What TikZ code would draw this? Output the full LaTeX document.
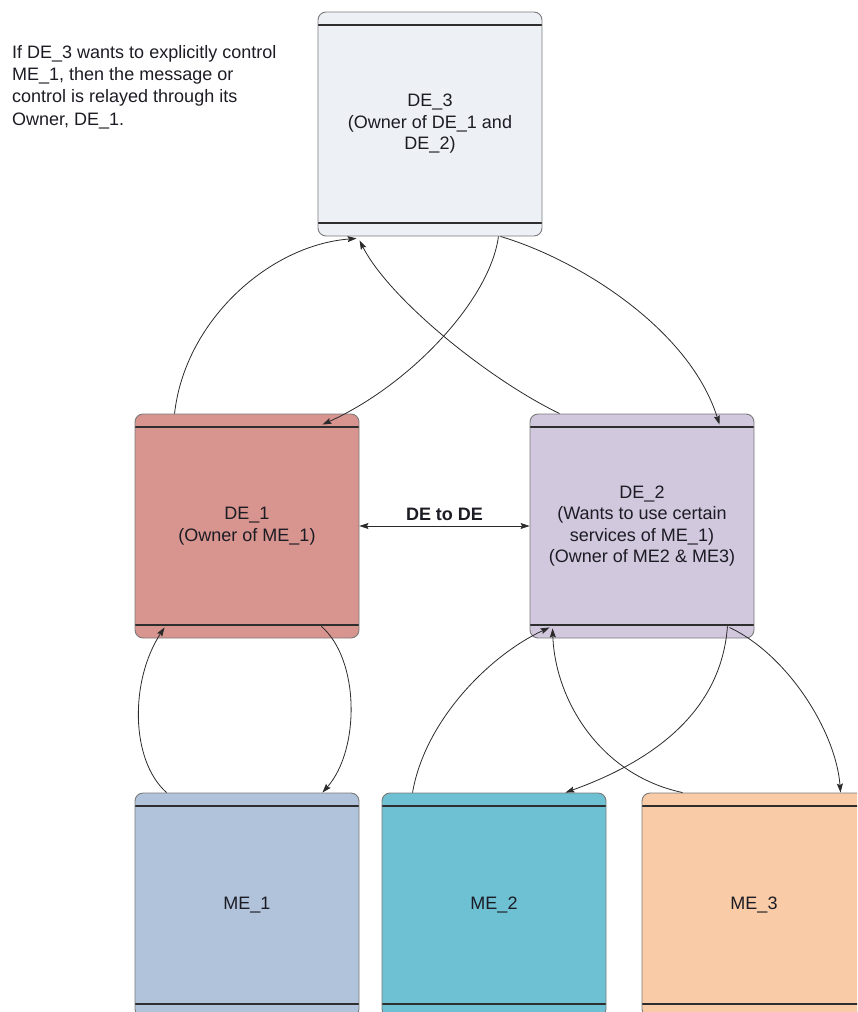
\documentclass[tikz,border=0pt]{standalone}
\usepackage{fontspec}
\setmainfont{Liberation Sans}
\usetikzlibrary{arrows.meta}

\definecolor{boxedge}{HTML}{7A7A7A}
\definecolor{bandline}{HTML}{2E2E2E}
\definecolor{linkcol}{HTML}{2A2A2A}
\definecolor{labeltext}{HTML}{1C1C24}
\definecolor{de3fill}{HTML}{EDF0F5}
\definecolor{de1fill}{HTML}{D8948F}
\definecolor{de2fill}{HTML}{D2C8DE}
\definecolor{me1fill}{HTML}{B0C3DB}
\definecolor{me2fill}{HTML}{6EC0D3}
\definecolor{me3fill}{HTML}{F9CBA7}

\tikzset{
  band/.style={draw=bandline, line width=1.4pt},
  entity/.style={draw=boxedge, line width=0.9pt, rounded corners=8pt,
    minimum width=224pt, minimum height=224pt, inner sep=0pt,
    align=center, text=labeltext, font=\fontsize{18}{21.5}\selectfont,
    path picture={
      \draw[band] ([yshift=-13pt]path picture bounding box.north west)
                  -- ([yshift=-13pt]path picture bounding box.north east);
      \draw[band] ([yshift=13pt]path picture bounding box.south west)
                  -- ([yshift=13pt]path picture bounding box.south east);
    }},
  tip/.tip={Stealth[length=9pt,width=6pt,inset=1.5pt]},
  link/.style={draw=linkcol, line width=0.8pt, -tip},
}

\begin{document}
\begin{tikzpicture}[x=1pt,y=-1pt]
  \useasboundingbox (0,0) rectangle (857,1012);
  \clip (0,0) rectangle (857,1012);

  % explanatory note
  \node[anchor=north west, inner sep=0pt, align=left, text=labeltext,
        font=\fontsize{18}{22.3}\selectfont] (note) at (12,45)
    {If DE\_3 wants to explicitly control\\ME\_1, then the message or\\control is relayed through its\\Owner, DE\_1.};

  % domain and managed entities
  \node[entity, fill=de3fill] (de3) at (430,124) {DE\_3\\(Owner of DE\_1 and\\DE\_2)};
  \node[entity, fill=de1fill] (de1) at (247,526) {DE\_1\\(Owner of ME\_1)};
  \node[entity, fill=de2fill] (de2) at (642,526) {DE\_2\\(Wants to use certain\\services of ME\_1)\\(Owner of ME2 \& ME3)};
  \node[entity, fill=me1fill] (me1) at (247,905) {ME\_1};
  \node[entity, fill=me2fill] (me2) at (494,905) {ME\_2};
  \node[entity, fill=me3fill] (me3) at (754,905) {ME\_3};

  % DE_3 <-> DE_1 / DE_2
  \draw[link] ([xshift=40pt]de1.north west)
      .. controls (185,320) and (270,245) .. ([xshift=39pt,yshift=-2pt]de3.south west);
  \draw[link] ([xshift=-44pt]de3.south east)
      .. controls (490,300) and (410,385) .. ([xshift=-37pt,yshift=-11pt]de1.north east);
  \draw[link] ([xshift=30pt]de2.north west)
      .. controls (490,380) and (390,300) .. ([xshift=42pt,yshift=-4pt]de3.south west);
  \draw[link] ([xshift=-42pt]de3.south east)
      .. controls (580,260) and (690,330) .. ([xshift=-35pt,yshift=-11pt]de2.north east);

  % peer link between the domain entities
  \draw[link, tip-tip] (de1.east) -- node[above=5pt, inner sep=0pt, text=labeltext,
      font=\fontsize{18}{21.5}\selectfont\bfseries] (peer) {DE to DE} (de2.west);

  % DE_1 <-> ME_1
  \draw[link] ([xshift=32pt]me1.north west)
      .. controls (130,760) and (130,680) .. ([xshift=30pt,yshift=11pt]de1.south west);
  \draw[link] ([xshift=-38pt,yshift=12pt]de1.south east)
      .. controls (360,660) and (360,750) .. ([xshift=-37pt]me1.north east);

  % DE_2 <-> ME_2 / ME_3
  \draw[link] ([xshift=31pt]me2.north west)
      .. controls (425,720) and (490,655) .. ([xshift=20pt,yshift=11pt]de2.south west);
  \draw[link] ([xshift=-27pt,yshift=12pt]de2.south east)
      .. controls (722,700) and (670,755) .. ([xshift=-41pt]me2.north east);
  \draw[link] ([xshift=41pt]me3.north west)
      .. controls (600,775) and (555,700) .. ([xshift=23pt,yshift=10pt]de2.south west);
  \draw[link] ([xshift=-25pt,yshift=11pt]de2.south east)
      .. controls (788,655) and (836,732) .. ([xshift=199pt]me3.north west);
\end{tikzpicture}
\end{document}
